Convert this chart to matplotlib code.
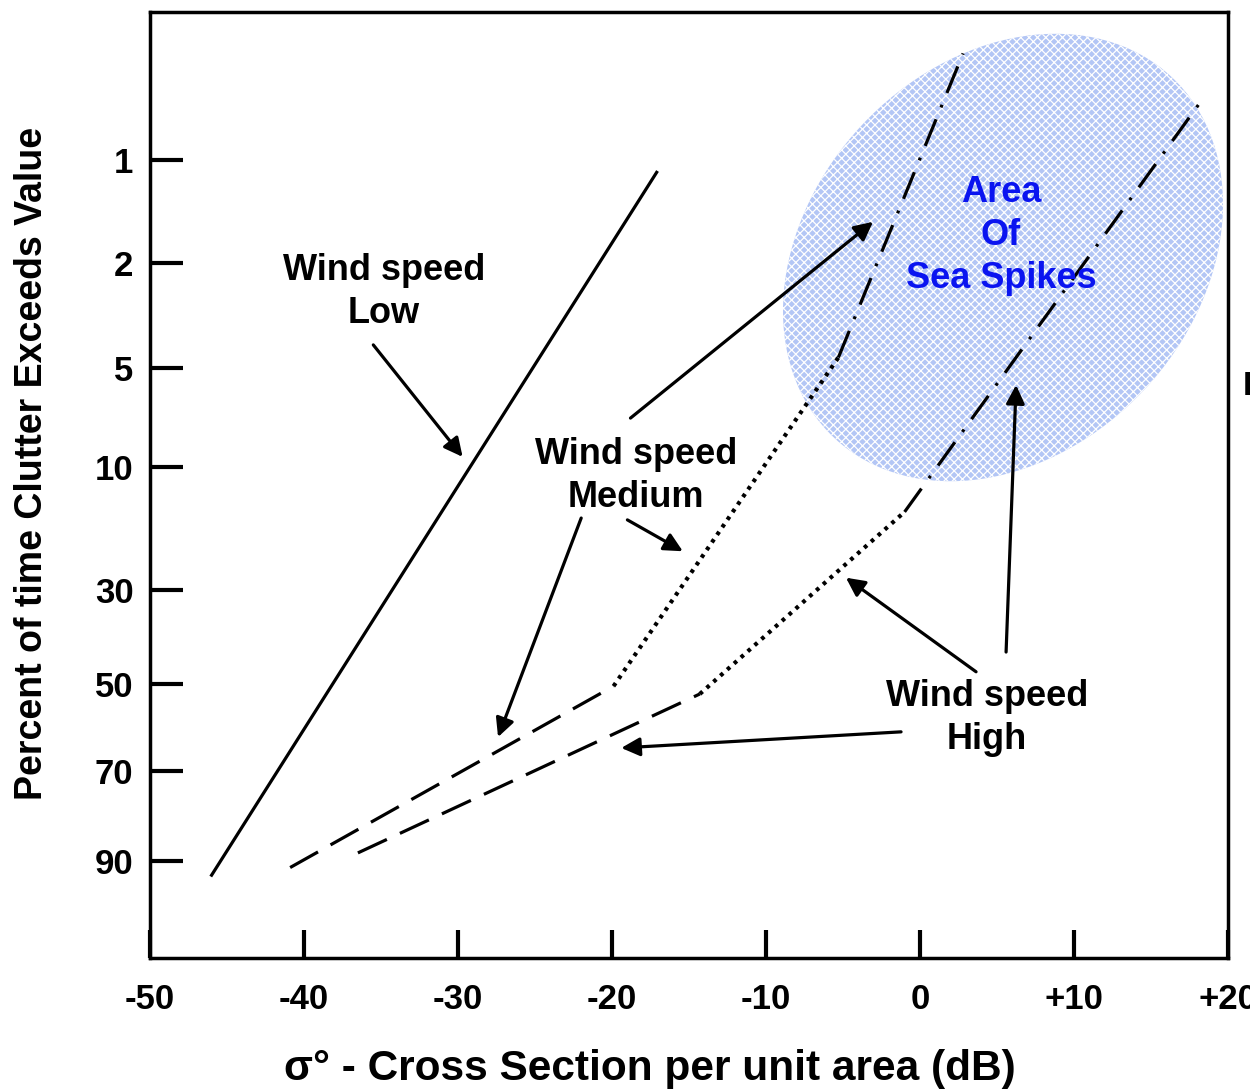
import numpy as np
import matplotlib
matplotlib.use("Agg")
import matplotlib.pyplot as plt
from matplotlib.patches import Ellipse
from matplotlib.scale import FuncScale

plt.rcParams['font.family'] = ['Liberation Sans', 'DejaVu Sans']
plt.rcParams['font.weight'] = 'bold'
plt.rcParams['hatch.linewidth'] = 0.9

# y axis: percent of time, non-uniform (probability-like) scale
pct_ticks = [1, 2, 5, 10, 30, 50, 70, 90]
pct_tick_labels = ['1', '2', '5', '10', '30', '50', '70', '90']

# x axis: sigma0 in dB
db_ticks = [-50, -40, -30, -20, -10, 0, 10, 20]
db_tick_labels = ['-50', '-40', '-30', '-20', '-10', '0', '+10', '+20']

# curves (x in dB, y in percent)
low_x = [-46.0, -17.1]
low_y = [91.3, 1.12]

med_dash_x = [-40.9, -19.9]
med_dash_y = [90.6, 50.5]
med_dot_x = [-19.9, -5.3]
med_dot_y = [50.5, 4.7]
med_dd_x = [-5.3, 2.8]
med_dd_y = [4.7, 0.28]

high_dash_x = [-36.5, -14.3]
high_dash_y = [88.2, 52.3]
high_dot_x = [-14.3, -1.0]
high_dot_y = [52.3, 17.3]
high_dd_x = [-1.0, 18.2]
high_dd_y = [17.3, 0.61]

# annotation arrows: (tail, head) in data coords
arrows = [
    ((-35.5, 4.34), (-29.7, 9.49)),
    ((-18.8, 7.53), (-3.05, 1.60)),
    ((-22.0, 18.3), (-27.4, 62.2)),
    ((-19.0, 18.6), (-15.4, 23.7)),
    ((3.64, 47.4), (-4.81, 28.0)),
    ((5.59, 43.2), (6.24, 5.86)),
    ((-1.23, 61.0), (-19.4, 64.7)),
]

# scale anchors: spacing of the percent grid on the original chart
anchor_pct = np.array([0, 1, 2, 5, 10, 30, 50, 70, 90, 100], dtype=float)
anchor_pos = np.array([0, 148, 251, 356, 455, 578, 672, 759, 849, 958], dtype=float)


def fwd(p):
    return np.interp(p, anchor_pct, anchor_pos)


def inv(v):
    return np.interp(v, anchor_pos, anchor_pct)


fig = plt.figure(figsize=(12.5, 10.9), dpi=100)
ax = fig.add_axes([0.12, 0.1211, 0.8624, 0.8679])
ax.set_yscale(FuncScale(ax, (fwd, inv)))
ax.set_xlim(-50, 20)
ax.set_ylim(inv(946), inv(0))

# sea spike area
ell = Ellipse((10.03, 8.325), 4.94, 3.87, angle=47, transform=fig.dpi_scale_trans,
              facecolor='#b3c6f5', edgecolor='white', hatch='xxxx', linewidth=0, zorder=1)
ax.add_patch(ell)

lw = 2.3
dash = (0, (10, 4.5))
dot = (0, (0.9, 1.3))
dashdot = (0, (9, 4, 0.9, 4))
ax.plot(low_x, low_y, color='black', lw=lw, zorder=3)
ax.plot(med_dash_x, med_dash_y, color='black', lw=lw, linestyle=dash, zorder=3)
ax.plot(med_dot_x, med_dot_y, color='black', lw=3, linestyle=dot, zorder=3)
ax.plot(med_dd_x, med_dd_y, color='black', lw=lw, linestyle=dashdot, zorder=3)
ax.plot(high_dash_x, high_dash_y, color='black', lw=lw, linestyle=dash, zorder=3)
ax.plot(high_dot_x, high_dot_y, color='black', lw=3, linestyle=dot, zorder=3)
ax.plot(high_dd_x, high_dd_y, color='black', lw=lw, linestyle=dashdot, zorder=3)

for tail, head in arrows:
    ax.annotate('', xy=head, xytext=tail,
                arrowprops=dict(arrowstyle='-|>', color='black', lw=2.3,
                                mutation_scale=28, shrinkA=0, shrinkB=0),
                zorder=4)

txt = dict(ha='center', va='center', fontsize=26, fontweight='bold', linespacing=1.3)
ax.text(-34.8, 2.83, 'Wind speed\nLow', **txt)
ax.text(-18.45, 11.5, 'Wind speed\nMedium', **txt)
ax.text(4.35, 57.8, 'Wind speed\nHigh', **txt)
ax.text(5.26, 1.73, 'Area\nOf\nSea Spikes', color='#0a14f0', ha='center', va='center',
        fontsize=26, fontweight='bold', linespacing=1.3, zorder=5)

ax.set_xticks(db_ticks)
ax.set_xticklabels(db_tick_labels)
ax.set_yticks(pct_ticks)
ax.set_yticklabels(pct_tick_labels)
ax.minorticks_off()
ax.tick_params(axis='y', direction='in', length=24, width=3, pad=12, labelsize=25)
ax.tick_params(axis='x', direction='in', length=20, width=3, pad=18, labelsize=25)
for s in ax.spines.values():
    s.set_linewidth(2.5)

fig.text(32 / 1250, 1 - 463 / 1090, 'Percent of time Clutter Exceeds Value', rotation=90,
         ha='center', va='center', fontsize=27, fontweight='bold')
fig.text(650 / 1250, 1 - 1069 / 1090, 'σ° - Cross Section per unit area (dB)',
         ha='center', va='center', fontsize=30.5, fontweight='bold')
fig.text(1243 / 1250, 1 - 387 / 1090, 'I', ha='left', va='center', fontsize=24, fontweight='bold')

fig.savefig('out.png', dpi=100)
